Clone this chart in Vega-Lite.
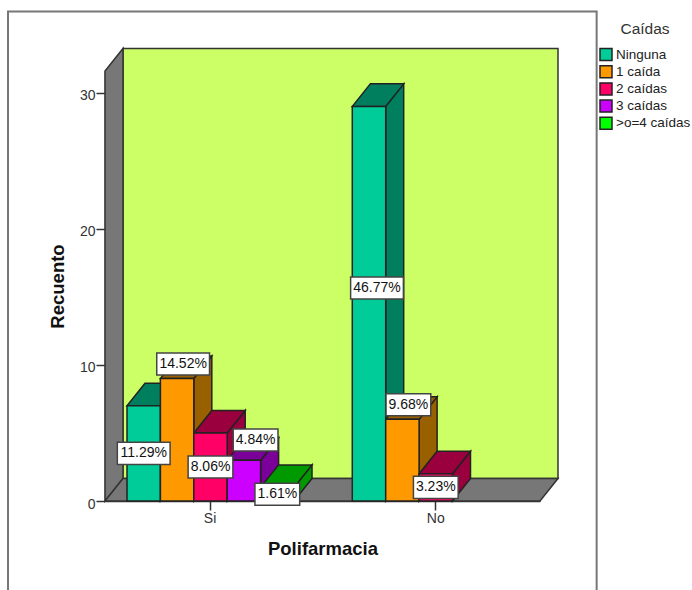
{
  "$schema": "https://vega.github.io/schema/vega-lite/v6.json",
  "width": 435,
  "height": 430,
  "autosize": "none",
  "padding": {"left": 105, "top": 71, "right": 152, "bottom": 89},
  "background": "white",
  "config": {"view": {"stroke": null}, "font": "Liberation Sans"},
  "encoding": {
    "x": {
      "field": "x",
      "type": "quantitative",
      "title": "Polifarmacia",
      "scale": {"domain": [0, 13.024], "nice": false, "zero": false},
      "axis": {
        "values": [3.13, 9.89],
        "labelExpr": "datum.value < 5 ? 'Si' : 'No'",
        "grid": false,
        "domain": true,
        "domainColor": "#333",
        "domainWidth": 1.5,
        "tickColor": "#333",
        "tickWidth": 1.5,
        "tickSize": 9,
        "labelFont": "Liberation Sans",
        "labelFontSize": 14,
        "labelColor": "#333",
        "labelPadding": 1,
        "labelFlush": false,
        "labelOverlap": false,
        "titleFont": "Liberation Sans",
        "titleFontSize": 18.5,
        "titleFontWeight": "bold",
        "titleColor": "#111",
        "titlePadding": 14
      }
    },
    "y": {
      "field": "y",
      "type": "quantitative",
      "title": "Recuento",
      "stack": null,
      "scale": {"domain": [0, 31.6], "nice": false},
      "axis": {
        "values": [0, 10, 20, 30],
        "grid": false,
        "domain": true,
        "domainColor": "#333",
        "domainWidth": 1.5,
        "tickColor": "#333",
        "tickWidth": 1.5,
        "tickSize": 9,
        "labelFont": "Liberation Sans",
        "labelFontSize": 14,
        "labelColor": "#333",
        "labelPadding": 1,
        "labelOffset": 3,
        "labelFlush": false,
        "titleFont": "Liberation Sans",
        "titleFontSize": 18.5,
        "titleFontWeight": "bold",
        "titleColor": "#111",
        "titleX": -38,
        "titleY": 215
      }
    }
  },
  "layer": [
    {
      "description": "Marco exterior del gráfico",
      "data": {"values": [{"x": -2.904, "x2": 14.72, "y": -7, "y2": 35.98}]},
      "mark": {"type": "rect", "fillOpacity": 0, "fill": "white", "stroke": "#777", "strokeWidth": 2},
      "encoding": {"x2": {"field": "x2"}, "y2": {"field": "y2"}}
    },
    {
      "description": "Pared del fondo",
      "data": {"values": [{"x": 0.539, "x2": 13.563, "y": 1.654, "y2": 33.254}]},
      "mark": {"type": "rect", "fill": "#ccff66", "stroke": "#333", "strokeWidth": 1.5},
      "encoding": {"x2": {"field": "x2"}, "y2": {"field": "y2"}}
    },
    {
      "description": "Pared lateral",
      "data": {"values": [{"x": 0, "y": 0, "y2": 31.6}, {"x": 0.539, "y": 1.654, "y2": 33.254}]},
      "mark": {"type": "area", "fill": "#777777", "stroke": "#333", "strokeWidth": 1.5},
      "encoding": {"y2": {"field": "y2"}}
    },
    {
      "description": "Suelo",
      "data": {"values": [{"y": 0, "x": 0, "x2": 13.024}, {"y": 1.654, "x": 0.539, "x2": 13.563}]},
      "mark": {"type": "area", "orient": "horizontal", "fill": "#777777", "stroke": "#333", "strokeWidth": 1.5},
      "encoding": {"x2": {"field": "x2"}}
    },
    {
      "data": {
        "values": [
          {"grupo": "Si", "caida": "Ninguna", "recuento": 7, "etiqueta": "11.29%"},
          {"grupo": "Si", "caida": "1 caída", "recuento": 9, "etiqueta": "14.52%"},
          {"grupo": "Si", "caida": "2 caídas", "recuento": 5, "etiqueta": "8.06%"},
          {"grupo": "Si", "caida": "3 caídas", "recuento": 3, "etiqueta": "4.84%"},
          {"grupo": "Si", "caida": ">o=4 caídas", "recuento": 1, "etiqueta": "1.61%"},
          {"grupo": "No", "caida": "Ninguna", "recuento": 29, "etiqueta": "46.77%"},
          {"grupo": "No", "caida": "1 caída", "recuento": 6, "etiqueta": "9.68%"},
          {"grupo": "No", "caida": "2 caídas", "recuento": 2, "etiqueta": "3.23%"}
        ]
      },
      "transform": [
        {"calculate": "(datum.grupo === 'Si' ? 0.659 : 7.404) + indexof(['Ninguna','1 caída','2 caídas','3 caídas','>o=4 caídas'], datum.caida)", "as": "x0"}
      ],
      "layer": [
        {
          "description": "Caras laterales de las barras",
          "transform": [
            {"calculate": "[0, 1]", "as": "p"},
            {"flatten": ["p"]},
            {"calculate": "datum.x0 + 1 + datum.p * 0.539", "as": "x"},
            {"calculate": "datum.recuento + datum.p * 1.654", "as": "y"},
            {"calculate": "datum.p * 1.654", "as": "y2"}
          ],
          "mark": {"type": "area", "stroke": "#222", "strokeWidth": 1.5},
          "encoding": {
            "y2": {"field": "y2"},
            "detail": {"field": "grupo"},
            "fill": {
              "field": "caida",
              "legend": null,
              "scale": {
                "domain": [">o=4 caídas", "3 caídas", "2 caídas", "1 caída", "Ninguna"],
                "range": ["#009900", "#7a0099", "#99003d", "#996000", "#007f5f"]
              }
            }
          }
        },
        {
          "description": "Caras superiores de las barras",
          "transform": [
            {"calculate": "[0, 1]", "as": "p"},
            {"flatten": ["p"]},
            {"calculate": "datum.x0 + datum.p * 0.539", "as": "x"},
            {"calculate": "datum.x0 + 1 + datum.p * 0.539", "as": "x2"},
            {"calculate": "datum.recuento + datum.p * 1.654", "as": "y"}
          ],
          "mark": {"type": "area", "orient": "horizontal", "stroke": "#222", "strokeWidth": 1.5},
          "encoding": {
            "x2": {"field": "x2"},
            "detail": {"field": "grupo"},
            "fill": {
              "field": "caida",
              "legend": null,
              "scale": {
                "domain": [">o=4 caídas", "3 caídas", "2 caídas", "1 caída", "Ninguna"],
                "range": ["#009900", "#7a0099", "#99003d", "#996000", "#007f5f"]
              }
            }
          }
        },
        {
          "description": "Cara frontal de las barras",
          "transform": [
            {"calculate": "datum.x0", "as": "x"},
            {"calculate": "datum.x0 + 1", "as": "x2"},
            {"calculate": "datum.recuento", "as": "y"},
            {"calculate": "0", "as": "y2"}
          ],
          "mark": {"type": "rect", "stroke": "#222", "strokeWidth": 1.5},
          "encoding": {
            "x2": {"field": "x2"},
            "y2": {"field": "y2"},
            "color": {
              "field": "caida",
              "type": "nominal",
              "sort": null,
              "scale": {
                "domain": ["Ninguna", "1 caída", "2 caídas", "3 caídas", ">o=4 caídas"],
                "range": ["#00cc99", "#ff9900", "#ff0066", "#cc00ff", "#00ff00"]
              },
              "legend": {
                "title": "Caídas",
                "orient": "none",
                "legendX": 494,
                "legendY": -49,
                "padding": 0,
                "titleFont": "Liberation Sans",
                "titleFontSize": 15.5,
                "titleFontWeight": "normal",
                "titleColor": "#333",
                "titleAnchor": "middle",
                "titlePadding": 10,
                "symbolType": "square",
                "symbolSize": 144,
                "symbolStrokeColor": "#222",
                "symbolStrokeWidth": 1.5,
                "labelFont": "Liberation Sans",
                "labelFontSize": 13.5,
                "labelColor": "#222",
                "labelOffset": 3,
                "labelLimit": 200,
                "rowPadding": -0.8
              }
            }
          }
        },
        {
          "description": "Etiquetas de porcentaje; las que no caben se apartan de su barra",
          "transform": [
            {"calculate": "{'Si|1 caída': [0.18, 5.57], 'Si|3 caídas': [0.35, 2.99], 'No|Ninguna': [0.24, 1.16], 'No|1 caída': [0.18, 4.08]}[datum.grupo + '|' + datum.caida] || [0, 0]", "as": "aparte"},
            {"calculate": "datum.x0 + 0.5 + datum.aparte[0]", "as": "x"},
            {"calculate": "datum.recuento / 2 + datum.aparte[1]", "as": "y"},
            {"calculate": "length(datum.etiqueta) > 5 ? 0.79 : 0.67", "as": "mediaAncho"}
          ],
          "layer": [
            {
              "transform": [
                {"calculate": "datum.x + datum.mediaAncho", "as": "x2"},
                {"calculate": "datum.x - datum.mediaAncho", "as": "x"},
                {"calculate": "datum.y + 0.81", "as": "y2"},
                {"calculate": "datum.y - 0.81", "as": "y"}
              ],
              "mark": {"type": "rect", "fill": "white", "stroke": "#444", "strokeWidth": 1.5},
              "encoding": {"x2": {"field": "x2"}, "y2": {"field": "y2"}}
            },
            {
              "mark": {"type": "text", "font": "Liberation Sans", "fontSize": 14, "color": "#111", "align": "center", "baseline": "middle"},
              "encoding": {"text": {"field": "etiqueta"}}
            }
          ]
        }
      ]
    }
  ]
}
